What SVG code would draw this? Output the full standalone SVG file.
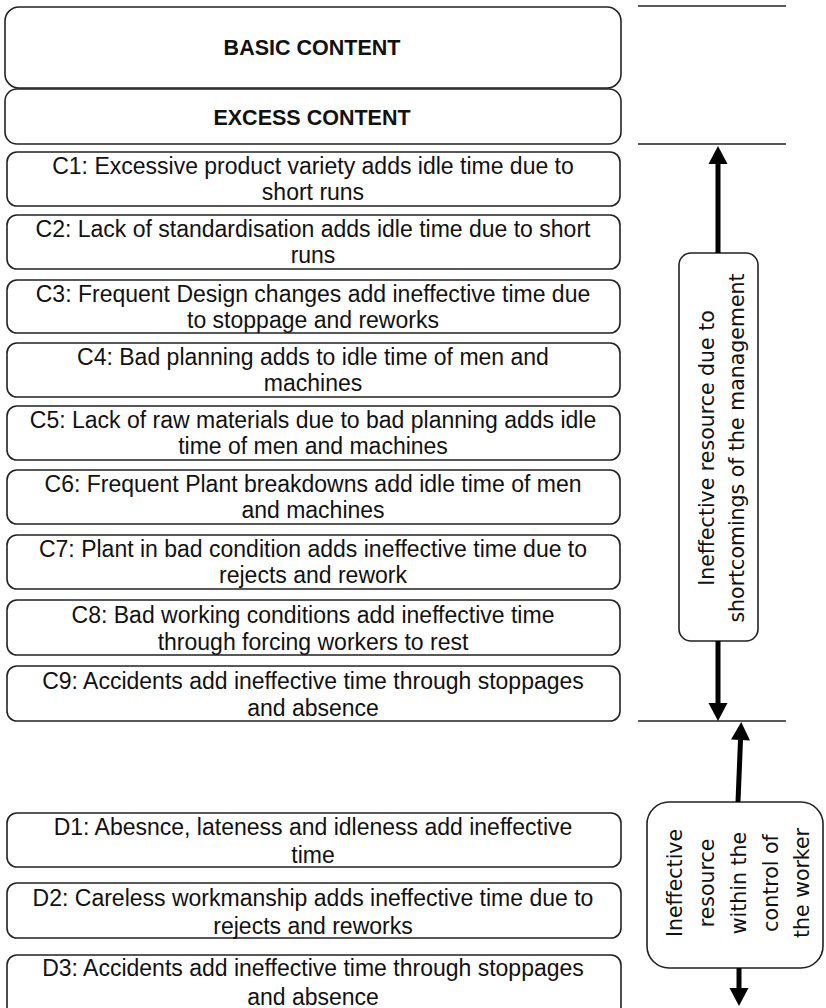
<svg xmlns="http://www.w3.org/2000/svg" width="826" height="1008" viewBox="0 0 826 1008">
  <style>
    .box { fill: #ffffff; stroke: #222222; stroke-width: 1.6; }
    .txt { font-family: "Liberation Sans", Arial, sans-serif; font-size: 23px; fill: #111111; text-anchor: middle; }
    .head { font-family: "Liberation Sans", Arial, sans-serif; font-size: 21.5px; font-weight: bold; fill: #111111; text-anchor: middle; }
    .vtxt { font-family: "DejaVu Sans", sans-serif; font-size: 20.5px; fill: #111111; text-anchor: middle; dominant-baseline: central; }
    .rule { stroke: #222222; stroke-width: 1.6; }
    .arrow { stroke: #000000; stroke-width: 5; fill: none; marker-end: url(#ah); }
  </style>
  <defs>
    <marker id="ah" markerUnits="userSpaceOnUse" markerWidth="20" markerHeight="20" viewBox="0 -10 18 20" refX="0" refY="0" orient="auto">
      <path d="M0,-9.5 L18,0 L0,9.5 Z" fill="#000000"/>
    </marker>
  </defs>
  <rect width="826" height="1008" fill="#ffffff"/>

  <!-- horizontal division rules on the right -->
  <g id="rules">
    <line class="rule" x1="638" y1="6" x2="786" y2="6"/>
    <line class="rule" x1="638" y1="144" x2="786" y2="144"/>
    <line class="rule" x1="638" y1="721" x2="786" y2="721"/>
  </g>

  <g id="basic">
    <rect class="box" x="5" y="7" width="616" height="81" rx="14"/>
    <text class="head" x="312" y="55">BASIC CONTENT</text>
  </g>
  <g id="excess">
    <rect class="box" x="5" y="89" width="616" height="55" rx="12"/>
    <text class="head" x="312" y="125">EXCESS CONTENT</text>
  </g>

  <g id="c1">
    <rect class="box" x="7" y="152" width="613" height="54" rx="10"/>
    <text class="txt" x="313" y="174">C1: Excessive product variety adds idle time due to</text>
    <text class="txt" x="313" y="200">short runs</text>
  </g>
  <g id="c2">
    <rect class="box" x="7" y="215" width="613" height="54" rx="10"/>
    <text class="txt" x="313" y="237">C2: Lack of standardisation adds idle time due to short</text>
    <text class="txt" x="313" y="263">runs</text>
  </g>
  <g id="c3">
    <rect class="box" x="7" y="280" width="613" height="53" rx="10"/>
    <text class="txt" x="313" y="302">C3: Frequent Design changes add ineffective time due</text>
    <text class="txt" x="313" y="328">to stoppage and reworks</text>
  </g>
  <g id="c4">
    <rect class="box" x="7" y="343" width="613" height="54" rx="10"/>
    <text class="txt" x="313" y="365">C4: Bad planning adds to idle time of men and</text>
    <text class="txt" x="313" y="391">machines</text>
  </g>
  <g id="c5">
    <rect class="box" x="7" y="406" width="613" height="54" rx="10"/>
    <text class="txt" x="313" y="428">C5: Lack of raw materials due to bad planning adds idle</text>
    <text class="txt" x="313" y="454">time of men and machines</text>
  </g>
  <g id="c6">
    <rect class="box" x="7" y="470" width="613" height="54" rx="10"/>
    <text class="txt" x="313" y="492">C6: Frequent Plant breakdowns add idle time of men</text>
    <text class="txt" x="313" y="518">and machines</text>
  </g>
  <g id="c7">
    <rect class="box" x="7" y="535" width="613" height="54" rx="10"/>
    <text class="txt" x="313" y="557">C7: Plant in bad condition adds ineffective time due to</text>
    <text class="txt" x="313" y="583">rejects and rework</text>
  </g>
  <g id="c8">
    <rect class="box" x="7" y="600" width="613" height="55" rx="10"/>
    <text class="txt" x="313" y="623">C8: Bad working conditions add ineffective time</text>
    <text class="txt" x="313" y="650">through forcing workers to rest</text>
  </g>
  <g id="c9">
    <rect class="box" x="7" y="666" width="613" height="55" rx="10"/>
    <text class="txt" x="313" y="689">C9: Accidents add ineffective time through stoppages</text>
    <text class="txt" x="313" y="716">and absence</text>
  </g>

  <g id="d1">
    <rect class="box" x="7" y="813" width="614" height="54" rx="10"/>
    <text class="txt" x="313" y="835">D1: Abesnce, lateness and idleness add ineffective</text>
    <text class="txt" x="313" y="863">time</text>
  </g>
  <g id="d2">
    <rect class="box" x="7" y="883" width="614" height="55" rx="10"/>
    <text class="txt" x="313" y="906">D2: Careless workmanship adds ineffective time due to</text>
    <text class="txt" x="313" y="934">rejects and reworks</text>
  </g>
  <g id="d3">
    <rect class="box" x="7" y="955" width="614" height="62" rx="10"/>
    <text class="txt" x="313" y="976">D3: Accidents add ineffective time through stoppages</text>
    <text class="txt" x="313" y="1005">and absence</text>
  </g>

  <g id="management">
    <rect class="box" x="679" y="253" width="79" height="388" rx="12"/>
    <text class="vtxt" transform="translate(707,448) rotate(-90)">Ineffective resource due to</text>
    <text class="vtxt" transform="translate(737,448) rotate(-90)">shortcomings of the management</text>
  </g>

  <g id="worker">
    <rect class="box" x="647" y="802" width="176" height="166" rx="22"/>
    <text class="vtxt" transform="translate(675,883) rotate(-90)">Ineffective</text>
    <text class="vtxt" transform="translate(707,883) rotate(-90)">resource</text>
    <text class="vtxt" transform="translate(739,883) rotate(-90)">within the</text>
    <text class="vtxt" transform="translate(771,883) rotate(-90)">control of</text>
    <text class="vtxt" transform="translate(802,883) rotate(-90)">the worker</text>
  </g>

  <g id="connectors">
    <line class="arrow" x1="718" y1="253" x2="718" y2="164"/>
    <line class="arrow" x1="718" y1="641" x2="718" y2="703"/>
    <line class="arrow" x1="738" y1="802" x2="740.5" y2="740"/>
    <line class="arrow" x1="739" y1="968" x2="739" y2="988"/>
  </g>
</svg>
